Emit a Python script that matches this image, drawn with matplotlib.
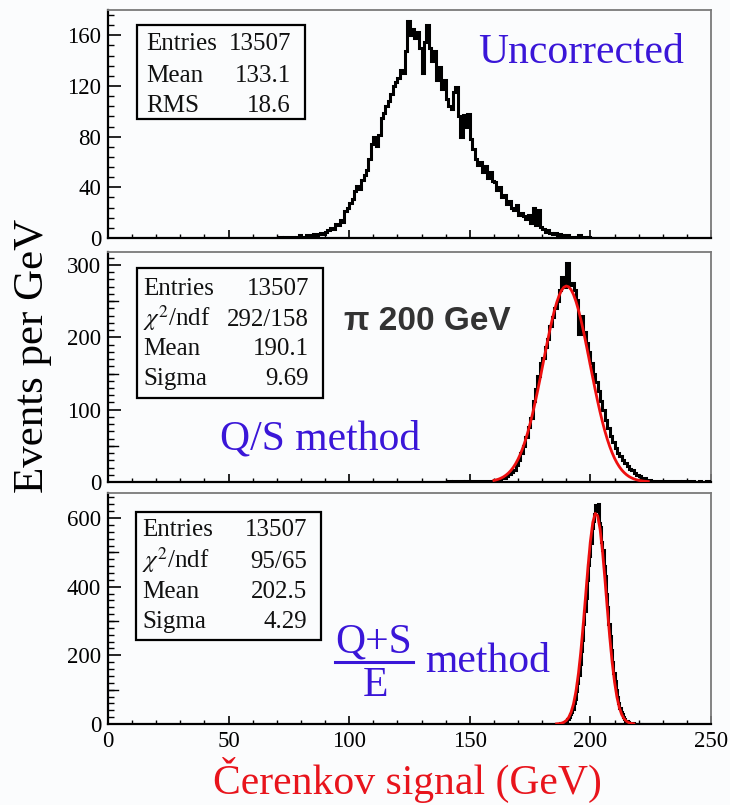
import numpy as np
import matplotlib
matplotlib.use("Agg")
import matplotlib.pyplot as plt
from matplotlib.patches import Rectangle
from matplotlib.lines import Line2D
import matplotlib.transforms as mtransforms

plt.rcParams['font.family'] = ['Liberation Serif', 'DejaVu Serif']
plt.rcParams['mathtext.fontset'] = 'stix'

# ---------------- data ----------------
# Panel 1 (uncorrected): 1 GeV bins starting at 70 GeV
p1_start, p1_width = 70, 1.0
p1_counts = [0, 1, 0, 1, 0, 1, 1, 0, 1, 2, 1, 1, 2, 1, 2,
             3, 2, 3, 4, 3, 5,
             6, 8, 7, 11, 10, 14, 13,
             21, 24, 28, 31,
             37, 41, 39, 46, 50,
             54, 62,
             74, 80, 73, 81,
             95, 99, 104,
             108, 114, 120, 123,
             126, 133, 130, 148,
             171, 160, 165, 158, 163, 150, 130, 155, 168, 150,
             140, 148, 125, 135, 118, 125,
             110, 104, 102, 115, 119,
             96, 80, 97, 88,
             98, 78,
             70, 62, 58,
             60, 52, 57, 47, 52, 45,
             44, 38, 40, 32, 34, 27,
             29, 24, 22, 26, 18, 20, 17,
             15, 18, 12, 24, 10, 22, 9, 7,
             5, 6, 4, 3, 4, 2, 3, 2, 1,
             2, 1, 1, 0, 1, 2, 0, 1, 0, 1, 0]

# Panel 2 (Q/S method): 1 GeV bins starting at 140 GeV
p2_start, p2_width = 140, 1.0
p2_counts = [0, 1, 0, 1, 0, 1, 1, 0, 1, 1, 0, 1, 1, 2, 1, 1, 2, 1, 2, 2,
             3, 2, 4, 5, 6, 8, 11, 14, 17,
             24, 31, 40, 50, 62, 76, 88,
             112, 128, 147, 165, 172, 186, 198,
             216, 228, 240, 250, 265, 284, 270, 303, 272, 275, 265,
             252, 205, 230, 208, 192, 180, 165, 150,
             138, 126, 112, 100,
             86, 74, 64, 55, 47, 40,
             36, 30, 26, 22, 18, 16, 12,
             10, 8, 6, 5, 3, 3, 2, 2, 1, 2, 1, 1, 2, 1, 1, 0, 1, 1, 0, 1,
             0, 1, 0, 1, 0, 0, 1, 0, 0, 1, 0]
# red fit curve of panel 2, sampled each GeV from 160 GeV
p2_fit_start = 160
p2_fit = [2.2, 3.0, 4.0, 5.4, 7.2, 9.5, 12.3, 15.8, 20.1, 25.3,
          31.5, 38.8, 47.3, 57.1, 68.2, 80.5, 94.0, 108.7, 124.3, 140.6,
          157.5, 174.4, 191.1, 207.2, 222.3, 236.0, 247.8, 257.5, 264.7, 269.3,
          271.0, 269.8, 265.9, 259.1, 249.9, 238.5, 225.1, 210.3, 194.4, 177.7,
          160.8, 143.9, 127.5, 111.7, 96.9, 83.1, 70.5, 59.2, 49.2, 40.5,
          32.9, 26.5, 21.1, 16.6, 13.0, 10.0, 7.6, 5.8, 4.3, 3.2,
          2.3, 1.7, 1.2, 0.9, 0.6]

# Panel 3 ((Q+S)/E method): 0.5 GeV bins starting at 185 GeV
p3_start, p3_width = 185, 0.5
p3_counts = [0, 1, 0, 1, 1, 2, 3, 2, 6, 7, 10, 16, 19, 28, 36, 44, 60, 74, 96, 120,
             142, 176, 212, 245, 290, 330, 368, 420, 462, 490, 528, 570, 590, 612,
             638, 622, 640, 585, 575, 530, 508, 460, 430, 378, 340, 292, 256, 215,
             180, 150, 125, 98, 80, 62, 48, 36, 28, 21, 15, 10, 8, 6, 4, 3, 2, 2,
             1, 1, 1, 0, 1, 0, 1, 0]
p3_fit_start = 186
p3_fit = [0.45, 1.06, 2.4, 5.0, 10.1, 19.2, 34.4, 58.7, 94.6, 144.5,
          209.2, 286.8, 372.3, 457.4, 532.7, 587.4, 613.5, 606.9, 568.6, 504.5,
          424.0, 337.5, 254.4, 181.7, 122.8, 78.7, 47.7, 27.4, 14.9, 7.7,
          3.8, 1.7, 0.7]

# axis ranges / ticks
x_range = (0, 250)
x_ticks = [0, 50, 100, 150, 200, 250]
y_max = [180, 318, 673]
y_major = [[0, 40, 80, 120, 160], [0, 100, 200, 300], [0, 200, 400, 600]]
y_minor_step = [8, 10, 20]
y_medium = [[], [50, 150, 250], [100, 300, 500]]

stat1 = [("Entries", "13507"), ("Mean", "133.1"), ("RMS", "18.6")]
stat2 = [("Entries", "13507"), (r"$\chi^{2}$/ndf", "292/158"), ("Mean", "190.1"), ("Sigma", "9.69")]
stat3 = [("Entries", "13507"), (r"$\chi^{2}$/ndf", "95/65"), ("Mean", "202.5"), ("Sigma", "4.29")]

# ---------------- figure ----------------
W, H = 730, 805
BG = '#fbfcfd'
fig = plt.figure(figsize=(W / 100, H / 100), dpi=100, facecolor=BG)

def fx(x):
    return x / W

def fy(y):
    return 1 - y / H

BLUE = '#3a16d8'
RED = '#e8141c'

rects = [(10, 238), (252, 482), (493, 724)]
axes = []
for (top, bot) in rects:
    ax = fig.add_axes([fx(108), fy(bot), 603 / W, (bot - top) / H])
    ax.set_facecolor(BG)
    axes.append(ax)

hists = [(p1_start, p1_width, p1_counts), (p2_start, p2_width, p2_counts),
         (p3_start, p3_width, p3_counts)]
fits = [None, (p2_fit_start, p2_fit), (p3_fit_start, p3_fit)]

for i, ax in enumerate(axes):
    s, w, c = hists[i]
    c = np.asarray(c, dtype=float)
    edges = s + w * np.arange(len(c) + 1)
    ax.stairs(c, edges, color='black', lw=2.2, zorder=3)
    if fits[i] is not None:
        fs, fv = fits[i]
        xs = fs + np.arange(len(fv))
        ax.plot(xs, fv, color='#ee1010', lw=2.0, zorder=4)
    ax.set_xlim(*x_range)
    ax.set_ylim(0, y_max[i])
    ax.set_xticks(x_ticks)
    ax.set_xticks(np.arange(0, 251, 10), minor=True)
    ax.set_yticks(y_major[i])
    ax.set_yticks(np.arange(0, y_max[i], y_minor_step[i]), minor=True)
    ax.tick_params(axis='both', which='both', direction='in', top=False, right=False,
                   colors='black', labelsize=16.5)
    ax.tick_params(axis='y', which='major', length=9.5, width=1.2, pad=5)
    ax.tick_params(axis='y', which='minor', length=4.5, width=1.0)
    ax.tick_params(axis='x', which='major', length=6, width=1.2, pad=5)
    ax.tick_params(axis='x', which='minor', length=3, width=1.0)
    if i < 2:
        ax.tick_params(axis='x', which='both', labelbottom=False)
    trans = mtransforms.blended_transform_factory(ax.transAxes, ax.transData)
    for yv in y_medium[i]:
        ax.plot([0, 9.5 / 603], [yv, yv], color='black', lw=1.0, transform=trans,
                clip_on=False, zorder=5)
    for side in ('left', 'bottom'):
        ax.spines[side].set_color('black')
        ax.spines[side].set_linewidth(1.6)
    for side in ('top', 'right'):
        ax.spines[side].set_color('#7a7a7a')
        ax.spines[side].set_linewidth(1.3)

# stat boxes
def stat_box(x0, y0, x1, y1, rows, baselines, lab_x, val_x):
    fig.add_artist(Rectangle((fx(x0), fy(y1)), (x1 - x0) / W, (y1 - y0) / H,
                             transform=fig.transFigure, fill=True, fc=BG,
                             ec='black', lw=1.6, zorder=10))
    for (lab, val), yb in zip(rows, baselines):
        fig.text(fx(lab_x), fy(yb), lab, ha='left', va='baseline', fontsize=18,
                 color='#111111', zorder=11)
        fig.text(fx(val_x), fy(yb), val, ha='right', va='baseline', fontsize=18,
                 color='#111111', zorder=11)

stat_box(137, 25, 305, 119, stat1, [50, 82, 112], 146, 291)
stat_box(137, 268, 323, 398, stat2, [295, 326, 355, 385], 143, 309)
stat_box(136, 512, 321, 640, stat3, [536, 568, 598, 628], 142, 307)

# labels
fig.text(fx(581), fy(63), "Uncorrected", ha='center', va='baseline', fontsize=30,
         color=BLUE)
fig.text(fx(427), fy(330), "π 200 GeV", ha='center', va='baseline', fontsize=24,
         fontweight='bold', color='#333333', family=['Liberation Sans', 'DejaVu Sans'])
fig.text(fx(220), fy(449), "Q/S method", ha='left', va='baseline', fontsize=30,
         color=BLUE)
fig.text(fx(374), fy(652), "Q+S", ha='center', va='baseline', fontsize=30, color=BLUE)
fig.add_artist(Line2D([fx(335), fx(413)], [fy(662), fy(662)], transform=fig.transFigure,
                      color=BLUE, lw=2.2))
fig.text(fx(375), fy(696), "E", ha='center', va='baseline', fontsize=30, color=BLUE)
fig.text(fx(425), fy(672), "method", ha='left', va='baseline', fontsize=30, color=BLUE)

fig.text(fx(33), fy(356), "Events per GeV", rotation=90, ha='center', va='center',
         fontsize=31, color='black')
fig.text(fx(407), fy(794), "Čerenkov signal (GeV)", ha='center', va='baseline',
         fontsize=30, color=RED)

fig.savefig("out.png", dpi=100, facecolor=BG)
